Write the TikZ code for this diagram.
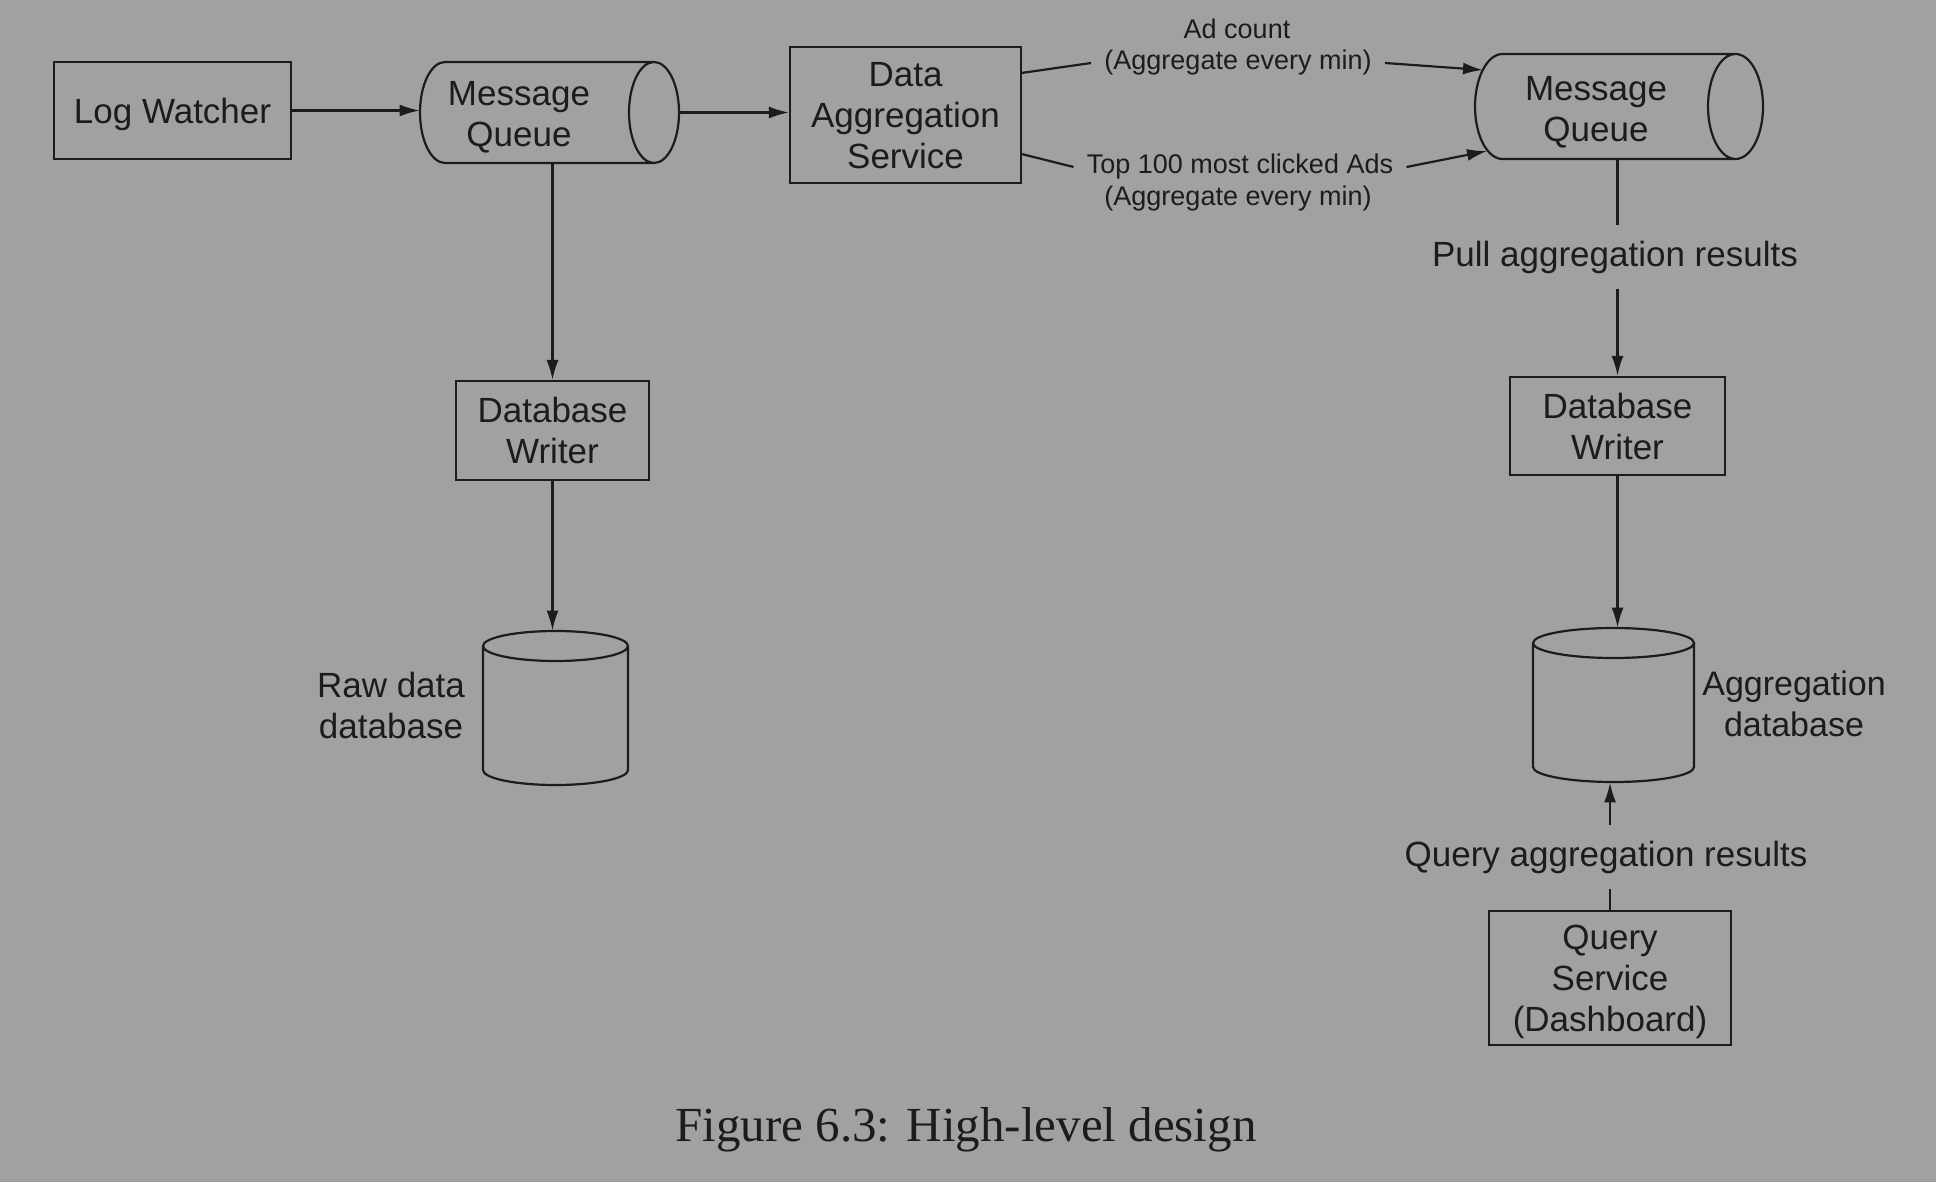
\documentclass[tikz,border=0pt]{standalone}
\usepackage{fontspec}
\setmainfont{Liberation Sans}
\newfontfamily\capfont{Liberation Serif}
\usetikzlibrary{arrows.meta,calc}
\definecolor{bgc}{RGB}{161,161,161}
\definecolor{ink}{RGB}{28,28,28}
\tikzset{
  lbl/.style={text=ink, font=\fontsize{17.5}{20.5}\selectfont, align=center, inner sep=0pt},
  small/.style={text=ink, font=\fontsize{13.5}{16}\selectfont, align=center, inner xsep=6.5pt, inner ysep=0pt},
  box/.style={lbl, draw=ink, line width=1.1pt, text depth=0pt},
  hold/.style={inner sep=0pt, draw=none},
  ln/.style={draw=ink, line width=1.1pt},
  arr/.style={ln, -{Latex[length=10pt,width=6pt]}},
}
\begin{document}
\begin{tikzpicture}[x=0.5pt,y=-0.5pt]
\fill[bgc] (0,0) rectangle (1936,1182);
\useasboundingbox (0,0) rectangle (1936,1182);

% boxes
\node[box, minimum width=118.5pt, minimum height=48.5pt] (lw) at (172.5,110.5) {Log Watcher};
\node[box, minimum width=115.5pt, minimum height=68pt] (das) at (905.5,115) {Data\\Aggregation\\Service};
\node[box, minimum width=96.5pt, minimum height=49.5pt] (dbw1) at (552.5,430.5) {Database\\Writer};
\node[box, minimum width=107.5pt, minimum height=49pt] (dbw2) at (1617.5,426) {Database\\Writer};
\node[box, minimum width=121pt, minimum height=67pt] (qs) at (1610,978) {Query\\Service\\(Dashboard)};

% message queue 1
\node[hold, minimum width=129.5pt, minimum height=50.5pt] (mq1) at (549.5,112.5) {};
\draw[ln] (445,62) arc[start angle=90,end angle=270,x radius=12.5pt,y radius=25.25pt] -- (654,163)
  (445,62) -- (654,62)
  (654,112.5) ellipse[x radius=12.5pt,y radius=25.25pt];
\node[lbl] (mq1t) at (519,117) {Message\\Queue};

% message queue 2
\node[hold, minimum width=144pt, minimum height=52.5pt] (mq2) at (1619,106.5) {};
\draw[ln] (1502.5,54) arc[start angle=90,end angle=270,x radius=13.75pt,y radius=26.25pt] -- (1735.5,159)
  (1502.5,54) -- (1735.5,54)
  (1735.5,106.5) ellipse[x radius=13.75pt,y radius=26.25pt];
\node[lbl] (mq2t) at (1596,112) {Message\\Queue};
\coordinate (mq2a) at (1483,70);
\coordinate (mq2b) at (1487,151);

% raw data database
\node[hold, minimum width=72.5pt, minimum height=77pt] (rawdb) at (555.5,708) {};
\draw[ln] (483,646) -- (483,770) arc[start angle=180,end angle=360,x radius=36.25pt,y radius=7.5pt] -- (628,646)
  (555.5,646) ellipse[x radius=36.25pt,y radius=7.5pt];
\node[lbl] (rawt) at (391,705) {Raw data\\database};

% aggregation database
\node[hold, minimum width=80.5pt, minimum height=77pt] (aggdb) at (1613.5,705) {};
\draw[ln] (1533,643) -- (1533,767) arc[start angle=180,end angle=360,x radius=40.25pt,y radius=7.5pt] -- (1694,643)
  (1613.5,643) ellipse[x radius=40.25pt,y radius=7.5pt];
\node[lbl, font=\fontsize{17}{20.5}\selectfont] (aggt) at (1794,704) {Aggregation\\database};

% labels
\node[small] (ada) at (1237,28.5) {Ad count};
\node[small] (adb) at (1238,63) {(Aggregate every min)};
\node[small] (top1) at (1240,167) {Top 100 most clicked Ads};
\node[small] (top2) at (1238,199) {(Aggregate every min)};
\node[lbl, inner ysep=7.5pt] (pull) at (1615,257) {Pull aggregation results};
\node[lbl, inner ysep=7.5pt] (qlab) at (1606,857) {Query aggregation results};

% connectors
\draw[arr] (lw.east) -- (lw.east -| mq1.west);
\draw[arr] (mq1.east) -- (mq1.east -| das.west);
\draw[arr] (mq1.south -| dbw1.north) -- (dbw1.north);
\draw[arr] (dbw1.south) -- (dbw1.south |- rawdb.north);
\draw[ln] ($(das.north east)+(0,27)$) -- (adb.west);
\draw[arr] (adb.east) -- (mq2a);
\draw[ln] ($(das.south east)+(0,-30)$) -- (top1.west);
\draw[arr] (top1.east) -- (mq2b);
\draw[ln] (mq2.south -| dbw2.north) -- (pull.north -| dbw2.north);
\draw[arr] (pull.south -| dbw2.north) -- (dbw2.north);
\draw[arr] (dbw2.south) -- (dbw2.south |- aggdb.north);
\draw[ln] (qs.north) -- (qlab.south -| qs.north);
\draw[arr] (qlab.north -| qs.north) -- (qs.north |- aggdb.south);

% caption
\node[text=ink, font=\capfont\fontsize{24.5}{28}\selectfont, inner sep=0pt] (cap) at (966,1130) {Figure 6.3: High-level design};
\end{tikzpicture}
\end{document}
